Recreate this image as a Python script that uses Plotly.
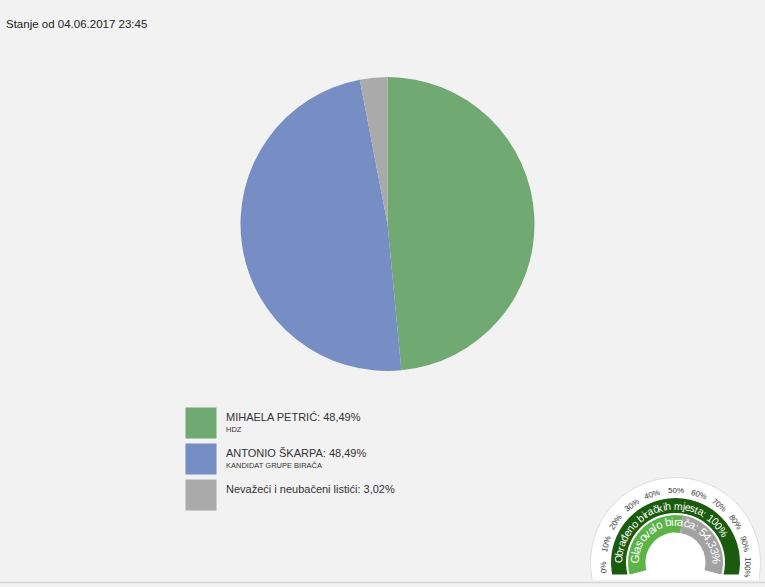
import math
import plotly.graph_objects as go

# ---------------- data ----------------
TITLE = "Stanje od 04.06.2017 23:45"
names = ["MIHAELA PETRIĆ", "ANTONIO ŠKARPA", "Nevažeći i neubačeni listići"]
subtitles = ["HDZ", "KANDIDAT GRUPE BIRAČA", ""]
shares = [48.49, 48.49, 3.02]
colors = ["#71a973", "#778ec5", "#aaaaaa"]

processed_label = "Obrađeno biračkih mjesta"
processed_pct = 100
turnout_label = "Glasovalo birača"
turnout_pct = 54.33
gauge_ticks = [0, 10, 20, 30, 40, 50, 60, 70, 80, 90, 100]

# ---------------- layout constants ----------------
W, H = 765, 587
FONT = "Liberation Sans, Arial, sans-serif"
BG = "#f2f2f2"
PIE_CX, PIE_CY, PIE_R = 387.5, 224, 147
G_CX, G_CY, G_R = 675.5, 562.5, 85          # gauge centre / outer radius (px)
BAND_ARC = (-15, 195)                        # degrees from the left, clockwise
TICK_ARC = (-4, 184)
DARK, LIGHT, REST = "#1a5b0e", "#5cb447", "#a2a2a2"


def fmt(v):
    return (f"{v:.2f}".rstrip("0").rstrip(".") if v != int(v) else str(int(v))).replace(".", ",")


def gauge_theta(p):
    return BAND_ARC[0] + p / 100 * (BAND_ARC[1] - BAND_ARC[0])


def px(x):
    return x / W


def py(y):
    return 1 - y / H


fig = go.Figure()

# pie
fig.add_trace(go.Pie(
    labels=names, values=shares, sort=False, direction="clockwise", rotation=0,
    marker=dict(colors=colors, line=dict(width=0)),
    textinfo="none", hoverinfo="label+percent", showlegend=False,
    domain=dict(x=[px(PIE_CX - PIE_R), px(PIE_CX + PIE_R)],
                y=[py(PIE_CY + PIE_R), py(PIE_CY - PIE_R)]),
))

# legend squares (pixel coordinate axes)
LEG_X, LEG_Y0, LEG_DY, LEG_S = 201, 423, 36, 31
fig.add_trace(go.Scatter(
    x=[LEG_X] * len(names), y=[LEG_Y0 + i * LEG_DY for i in range(len(names))],
    mode="markers", hoverinfo="skip", showlegend=False,
    marker=dict(symbol="square", size=LEG_S, color=colors, line=dict(width=0)),
))

# gauge bands
t0, t1 = gauge_theta(0), gauge_theta(processed_pct)
fig.add_trace(go.Barpolar(theta=[(t0 + t1) / 2], width=[t1 - t0], base=[49.5], r=[15],
                          marker=dict(color=DARK, line=dict(width=0)), hoverinfo="skip", showlegend=False))
t2 = gauge_theta(turnout_pct)
t3 = gauge_theta(100)
fig.add_trace(go.Barpolar(theta=[(t0 + t2) / 2, (t2 + t3) / 2], width=[t2 - t0, t3 - t2],
                          base=[30, 30], r=[17.5, 17.5],
                          marker=dict(color=[LIGHT, REST], line=dict(width=0)),
                          hoverinfo="skip", showlegend=False))

annotations = []
annotations.append(dict(x=4, y=23.5, xref="x", yref="y", text=TITLE, showarrow=False,
                        xanchor="left", yanchor="middle", font=dict(size=11.5, color="#222", family=FONT)))

for i, (n, s, sub) in enumerate(zip(names, shares, subtitles)):
    yc = LEG_Y0 + i * LEG_DY
    annotations.append(dict(x=224, y=yc - 6.5, xref="x", yref="y", text=f"{n}: {fmt(s)}%",
                            showarrow=False, xanchor="left", yanchor="middle",
                            font=dict(size=11, color="#333", family=FONT)))
    if sub:
        annotations.append(dict(x=224, y=yc + 6.5, xref="x", yref="y", text=sub,
                                showarrow=False, xanchor="left", yanchor="middle",
                                font=dict(size=7.5, color="#333", family=FONT)))

# tick labels around the gauge
for p in gauge_ticks:
    a = TICK_ARC[0] + p / 100 * (TICK_ARC[1] - TICK_ARC[0])
    ar = math.radians(a)
    r = 72
    annotations.append(dict(x=G_CX - r * math.cos(ar), y=G_CY - r * math.sin(ar), xref="x", yref="y",
                            text=f"{p}%", showarrow=False, textangle=a - 90,
                            xanchor="center", yanchor="middle",
                            font=dict(size=8, color="#333", family=FONT)))

CW = {' ': .278, '.': .278, ',': .278, ':': .278, 'i': .222, 'j': .222, 'l': .222, 'r': .333,
      't': .278, 'f': .278, 's': .5, 'k': .5, 'v': .5, 'c': .5, 'č': .5, 'ć': .5, 'm': .833,
      '%': .889, 'O': .778, 'G': .778}


def arc_text(text, r, mid, size, color):
    ws = [CW.get(c, .556) * size for c in text]
    total = sum(ws)
    cum = 0
    for c, w in zip(text, ws):
        s = cum + w / 2 - total / 2
        cum += w
        a = mid + math.degrees(s / r)
        ar = math.radians(a)
        annotations.append(dict(x=G_CX - r * math.cos(ar), y=G_CY - r * math.sin(ar), xref="x", yref="y",
                                text=c, showarrow=False, textangle=a - 90,
                                xanchor="center", yanchor="middle",
                                font=dict(size=size, color=color, family=FONT)))


arc_text(f"{processed_label}: {fmt(processed_pct)}%", 57, 75.6, 10.5, "white")
arc_text(f"{turnout_label}: {fmt(turnout_pct)}%", 41, 90.5, 11.5, "white")

shapes = [
    # white gauge disc (below the bands)
    dict(type="circle", xref="paper", yref="paper", layer="below",
         x0=px(G_CX - G_R), x1=px(G_CX + G_R), y0=py(G_CY + G_R), y1=py(G_CY - G_R),
         fillcolor="white", line=dict(color="#dedede", width=1)),
    # flat clip of the bands
    dict(type="rect", xref="paper", yref="paper", layer="above",
         x0=px(593), x1=px(759), y0=py(580), y1=py(574.5),
         fillcolor="white", line=dict(width=0)),
    dict(type="rect", xref="paper", yref="paper", layer="above",
         x0=0, x1=1, y0=0, y1=py(580), fillcolor=BG, line=dict(width=0)),
    dict(type="line", xref="paper", yref="paper", layer="above",
         x0=0, x1=1, y0=py(582.5), y1=py(582.5), line=dict(color="#d8d8d8", width=1.5)),
]

fig.update_layout(
    width=W, height=H, margin=dict(l=0, r=0, t=0, b=0),
    paper_bgcolor=BG, plot_bgcolor="rgba(0,0,0,0)",
    font=dict(family=FONT),
    xaxis=dict(range=[0, W], visible=False, fixedrange=True, domain=[0, 1]),
    yaxis=dict(range=[H, 0], visible=False, fixedrange=True, domain=[0, 1]),
    polar=dict(
        domain=dict(x=[px(G_CX - G_R), px(G_CX + G_R)],
                    y=[py(G_CY + G_R * math.sin(math.radians(-BAND_ARC[0]))), py(G_CY - G_R)]),
        sector=[BAND_ARC[0], 180 - BAND_ARC[0]],
        bgcolor="rgba(0,0,0,0)",
        radialaxis=dict(visible=False, range=[0, G_R]),
        angularaxis=dict(visible=False, rotation=180, direction="clockwise"),
    ),
    annotations=annotations, shapes=shapes, showlegend=False,
)

fig.write_html("out.html")
